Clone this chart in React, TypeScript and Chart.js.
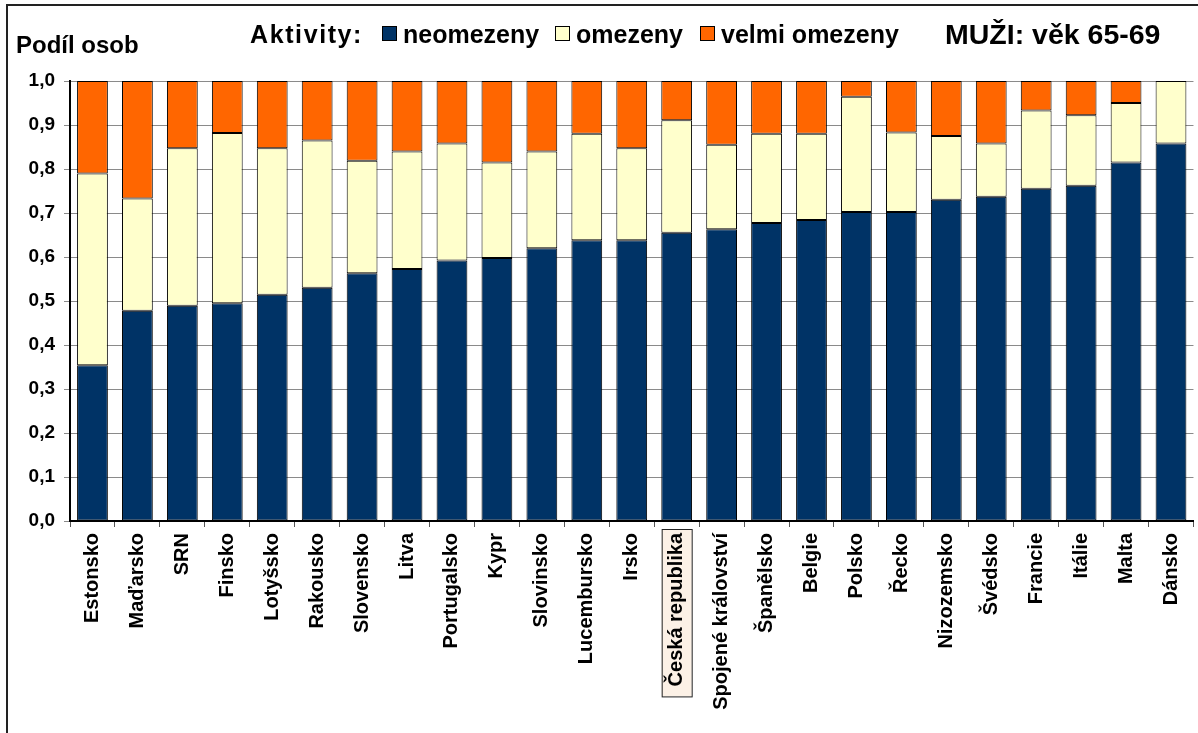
import React, { useEffect, useRef } from "react";
import { Chart, registerables } from "chart.js";

Chart.register(...registerables);

const categories = [
  "Estonsko", "Maďarsko", "SRN", "Finsko", "Lotyšsko", "Rakousko", "Slovensko", "Litva",
  "Portugalsko", "Kypr", "Slovinsko", "Lucembursko", "Irsko", "Česká republika",
  "Spojené království", "Španělsko", "Belgie", "Polsko", "Řecko", "Nizozemsko",
  "Švédsko", "Francie", "Itálie", "Malta", "Dánsko",
];

const neomezeny = [0.354, 0.478, 0.489, 0.495, 0.514, 0.530, 0.563, 0.573, 0.592, 0.598, 0.620, 0.638, 0.638, 0.655, 0.663, 0.677, 0.684, 0.702, 0.702, 0.730, 0.737, 0.755, 0.762, 0.815, 0.858];
const omezeny = [0.436, 0.255, 0.358, 0.387, 0.333, 0.335, 0.256, 0.267, 0.266, 0.217, 0.220, 0.242, 0.209, 0.256, 0.192, 0.203, 0.196, 0.262, 0.181, 0.145, 0.121, 0.178, 0.160, 0.135, 0.142];
const velmiOmezeny = [0.210, 0.267, 0.153, 0.118, 0.153, 0.135, 0.181, 0.160, 0.142, 0.185, 0.160, 0.120, 0.153, 0.089, 0.145, 0.120, 0.120, 0.036, 0.117, 0.125, 0.142, 0.067, 0.078, 0.050, 0.000];

const seriesNames = ["neomezeny", "omezeny", "velmi omezeny"];
const seriesColors = ["#003366", "#FFFFCC", "#FF6600"];
const highlightCategory = "Česká republika";
const yTitle = "Podíl osob";
const legendTitle = "Aktivity:";
const chartTitle = "MUŽI: věk 65-69";

const FONT = "'Liberation Sans', Arial, sans-serif";

const highlightPlugin = {
  id: "highlightLabel",
  beforeDraw(chart: any) {
    const x = chart.scales.x;
    const idx = categories.indexOf(highlightCategory);
    if (idx < 0) return;
    const ctx = chart.ctx;
    ctx.save();
    ctx.font = `bold 20px ${FONT}`;
    const w = ctx.measureText(highlightCategory).width;
    const cx = x.getPixelForTick(idx);
    const top = x.top + 8;
    const left = cx - 15;
    ctx.fillStyle = "#FCF1E6";
    ctx.fillRect(left, top, 30, w + 14);
    ctx.strokeStyle = "#222";
    ctx.lineWidth = 1;
    ctx.strokeRect(left + 0.5, top + 0.5, 30, w + 14);
    ctx.restore();
  },
};

export default function App() {
  const ref = useRef<HTMLCanvasElement | null>(null);

  useEffect(() => {
    document.body.style.margin = "0";
    document.documentElement.style.overflow = "hidden";
    const canvas = ref.current!;
    const data = [neomezeny, omezeny, velmiOmezeny];
    const chart = new Chart(canvas, {
      type: "bar",
      data: {
        labels: categories,
        datasets: seriesNames.map((name, i) => ({
          label: name,
          data: data[i],
          backgroundColor: seriesColors[i],
          borderColor: "#000000",
          borderWidth: 1,
          borderSkipped: false,
          categoryPercentage: 1,
          barPercentage: 0.685,
        })),
      },
      options: {
        animation: false,
        responsive: false,
        maintainAspectRatio: false,
        layout: { padding: { top: 81, left: 0, right: 0, bottom: 0 } },
        plugins: {
          legend: { display: false },
          tooltip: { enabled: false },
        },
        scales: {
          x: {
            stacked: true,
            offset: true,
            afterFit: (s: any) => { s.height = 212; },
            grid: {
              offset: true,
              drawOnChartArea: false,
              drawTicks: true,
              tickLength: 6,
              color: "#555",
            },
            border: { color: "#000", width: 2 },
            ticks: {
              minRotation: 90,
              maxRotation: 90,
              autoSkip: false,
              padding: 6,
              color: "#000",
              font: { family: FONT, size: 20, weight: "bold" },
            },
          },
          y: {
            stacked: true,
            min: 0,
            max: 1,
            afterFit: (s: any) => { s.width = 70; },
            grid: {
              color: "#8a8a8a",
              lineWidth: 1,
              tickLength: 6,
            },
            border: { color: "#000", width: 2 },
            ticks: {
              stepSize: 0.1,
              padding: 9,
              color: "#000",
              font: { family: FONT, size: 19, weight: "bold" },
              callback: (v: any) => Number(v).toFixed(1).replace(".", ","),
            },
          },
        },
      },
      plugins: [highlightPlugin],
    });
    return () => chart.destroy();
  }, []);

  const textBase: React.CSSProperties = {
    position: "absolute",
    fontFamily: FONT,
    fontWeight: "bold",
    color: "#000",
    whiteSpace: "nowrap",
    lineHeight: 1,
  };

  const legendX = [382, 555, 700];

  return (
    <div style={{ position: "relative", width: 1198, height: 733, overflow: "hidden", background: "#fff" }}>
      <canvas ref={ref} width={1201} height={733} style={{ position: "absolute", left: 0, top: 0, width: 1201, height: 733 }} />
      <div style={{ position: "absolute", left: 6, top: 4, width: 1300, height: 900, border: "2px solid #222", pointerEvents: "none" }} />
      <div style={{ ...textBase, left: 16, top: 33, fontSize: 24 }}>{yTitle}</div>
      <div style={{ ...textBase, left: 250, top: 22, fontSize: 25, letterSpacing: 1.6 }}>{legendTitle}</div>
      {seriesNames.map((n, i) => (
        <React.Fragment key={n}>
          <div style={{ position: "absolute", left: legendX[i], top: 26, width: 13, height: 13, background: seriesColors[i], border: "1px solid #000" }} />
          <div style={{ ...textBase, left: legendX[i] + 21, top: 22, fontSize: 25 }}>{n}</div>
        </React.Fragment>
      ))}
      <div style={{ ...textBase, left: 945, top: 20, fontSize: 28.5 }}>{chartTitle}</div>
    </div>
  );
}
